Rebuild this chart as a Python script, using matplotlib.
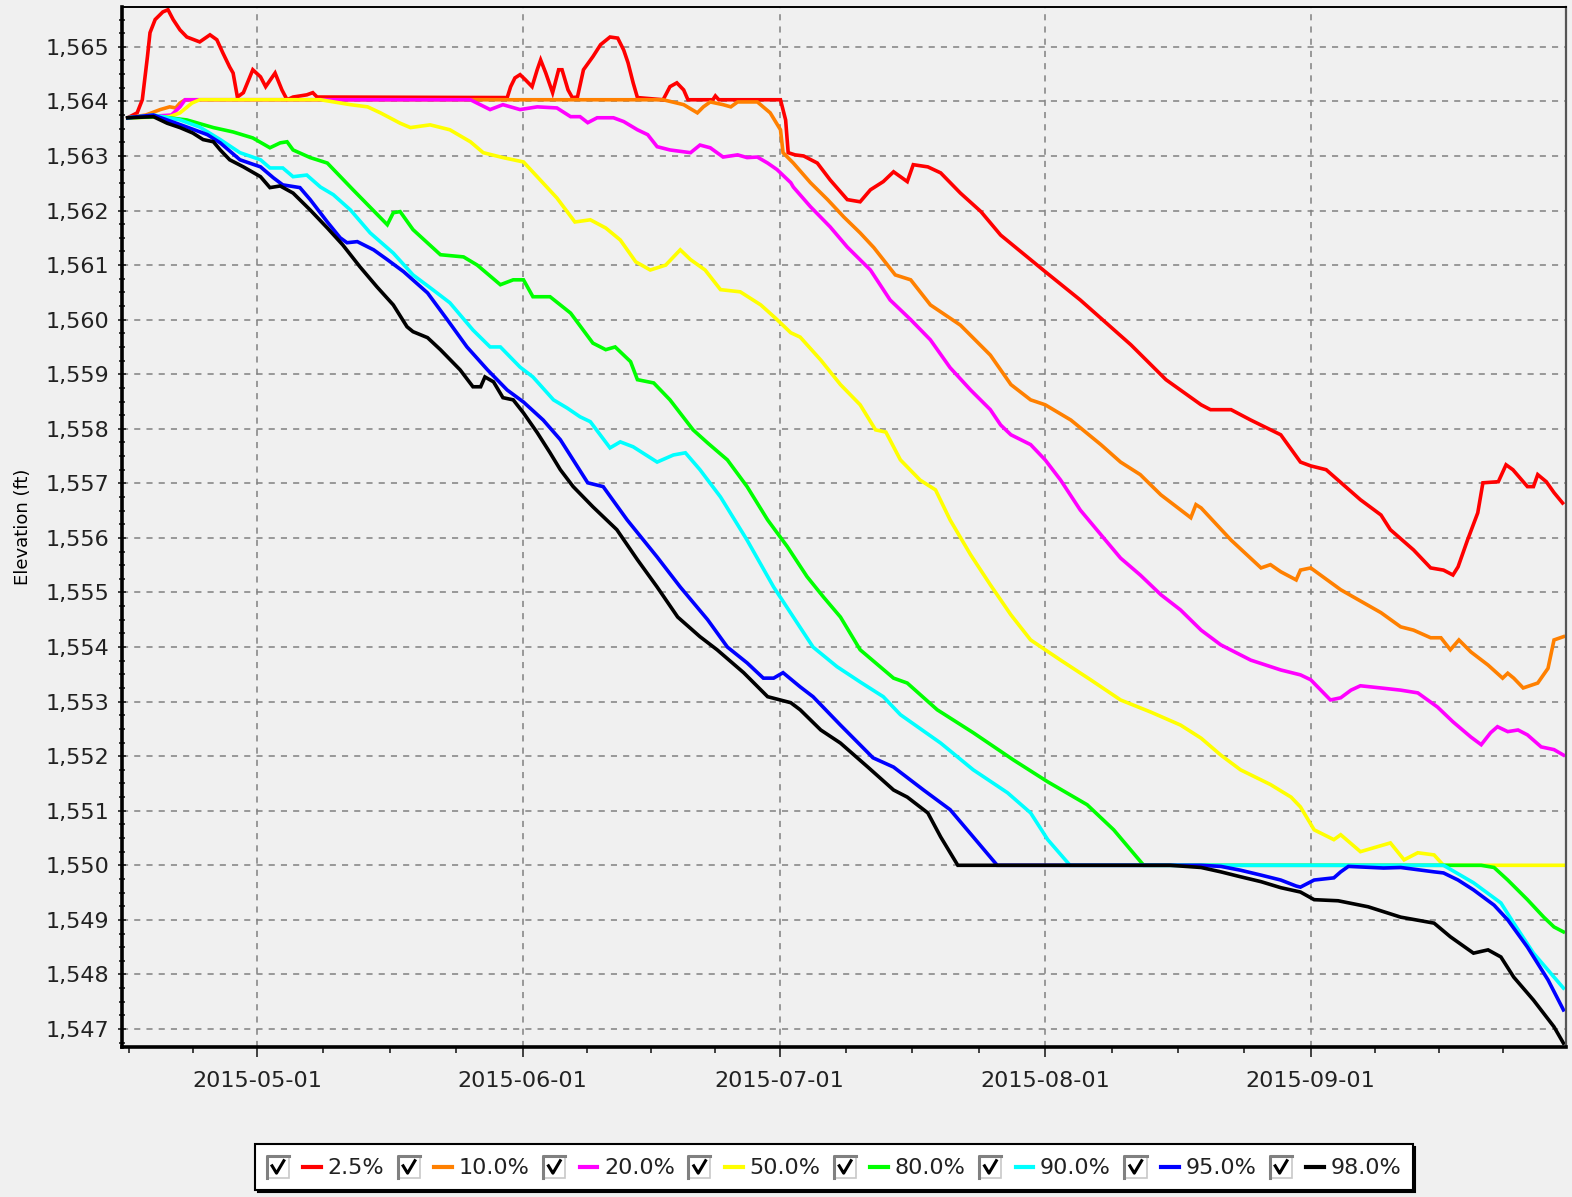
import calendar
from datetime import datetime, timedelta

import matplotlib
matplotlib.use("Agg")
import matplotlib.pyplot as plt
import matplotlib.dates as mdates
from matplotlib.ticker import FuncFormatter, MultipleLocator, FixedLocator
from matplotlib.legend_handler import HandlerBase
from matplotlib.patches import Rectangle
from matplotlib.lines import Line2D

# Reservoir elevation traces, days counted from 2015-04-15
START = datetime(2015, 4, 15)

labels = ["2.5%", "10.0%", "20.0%", "50.0%", "80.0%", "90.0%", "95.0%", "98.0%"]
colors = ["#ff0000", "#ff8000", "#ff00ff", "#ffff00", "#00ff00", "#00ffff", "#0000ff", "#000000"]

days_025 = [0.9, 2.0, 2.6, 3.2, 3.5, 4.1, 5.0, 5.6, 6.2, 7.0, 7.8, 9.3, 10.5, 11.3, 12.0, 12.8,
            13.2, 13.7, 14.4, 15.5, 16.4, 17.0, 18.1, 18.9, 19.5, 20.2, 21.8, 22.5, 23.0, 45.2,
            45.6, 46.1, 46.7, 47.3, 48.1, 48.7, 49.1, 49.7, 50.5, 51.2, 51.6, 52.3, 52.8, 53.4,
            54.1, 55.2, 56.1, 57.2, 58.1, 58.8, 59.3, 59.9, 60.4, 63.4, 64.2, 65.0, 65.8, 66.3,
            69.2, 69.5, 69.9, 77.1, 77.7, 78.0, 78.8, 79.8, 81.4, 82.9, 84.9, 86.4, 87.6, 89.1,
            90.3, 91.9, 92.6, 94.3, 95.8, 98.1, 100.5, 102.8, 108.0, 112.1, 118.0, 122.1, 126.2,
            127.3, 129.7, 132.0, 135.5, 137.8, 139.0, 140.8, 144.8, 147.2, 148.3, 151.0, 153.0,
            154.5, 155.6, 156.2, 157.3, 158.5, 159.1, 160.9, 161.8, 162.6, 164.3, 165.0, 165.5,
            166.5, 167.4, 168.4]
elev_025 = [1563.70, 1563.79, 1564.03, 1564.82, 1565.26, 1565.50, 1565.64, 1565.68, 1565.50,
            1565.31, 1565.18, 1565.09, 1565.22, 1565.13, 1564.89, 1564.63, 1564.52, 1564.08,
            1564.16, 1564.58, 1564.45, 1564.27, 1564.52, 1564.21, 1564.03, 1564.08, 1564.12,
            1564.16, 1564.08, 1564.07, 1564.27, 1564.43, 1564.49, 1564.40, 1564.27, 1564.58,
            1564.76, 1564.52, 1564.16, 1564.58, 1564.58, 1564.21, 1564.07, 1564.08, 1564.58,
            1564.82, 1565.04, 1565.18, 1565.16, 1564.94, 1564.71, 1564.34, 1564.07, 1564.03,
            1564.27, 1564.34, 1564.21, 1564.03, 1564.03, 1564.10, 1564.03, 1564.03, 1563.66,
            1563.06, 1563.02, 1563.00, 1562.87, 1562.56, 1562.20, 1562.16, 1562.38, 1562.53,
            1562.71, 1562.53, 1562.84, 1562.80, 1562.69, 1562.32, 1561.98, 1561.55, 1560.88,
            1560.36, 1559.54, 1558.90, 1558.44, 1558.35, 1558.35, 1558.16, 1557.89, 1557.39,
            1557.32, 1557.25, 1556.70, 1556.42, 1556.15, 1555.78, 1555.45, 1555.41, 1555.32,
            1555.47, 1555.96, 1556.46, 1557.01, 1557.03, 1557.34, 1557.25, 1556.94, 1556.94,
            1557.16, 1557.03, 1556.83, 1556.64]

days_10 = [0.9, 3.0, 4.7, 5.8, 6.5, 7.0, 7.6, 63.4, 65.8, 67.4, 68.1, 68.9, 70.4, 71.3, 72.1,
           74.4, 75.9, 77.1, 77.4, 78.6, 80.6, 82.6, 84.5, 86.4, 88.0, 90.5, 92.3, 94.6, 98.1,
           101.6, 104.0, 106.3, 108.0, 111.0, 114.5, 116.8, 119.1, 121.5, 125.0, 125.6, 126.2,
           129.7, 133.2, 134.3, 135.5, 137.3, 137.8, 139.0, 142.5, 147.2, 149.5, 151.0, 153.0,
           154.2, 155.3, 156.3, 157.7, 159.7, 161.4, 162.0, 162.7, 163.8, 165.5, 166.7, 167.4,
           168.5]
elev_10 = [1563.70, 1563.75, 1563.85, 1563.90, 1563.88, 1563.97, 1564.03, 1564.03, 1563.94,
           1563.79, 1563.90, 1563.99, 1563.94, 1563.90, 1563.99, 1563.99, 1563.79, 1563.48,
           1563.06, 1562.87, 1562.51, 1562.20, 1561.88, 1561.59, 1561.32, 1560.82, 1560.73,
           1560.27, 1559.90, 1559.35, 1558.81, 1558.53, 1558.44, 1558.16, 1557.71, 1557.39,
           1557.16, 1556.79, 1556.37, 1556.61, 1556.55, 1555.96, 1555.45, 1555.51, 1555.38,
           1555.23, 1555.41, 1555.45, 1555.05, 1554.63, 1554.37, 1554.31, 1554.17, 1554.17,
           1553.95, 1554.13, 1553.91, 1553.67, 1553.43, 1553.52, 1553.43, 1553.25, 1553.34,
           1553.61, 1554.13, 1554.19]

days_20 = [0.9, 6.0, 7.0, 7.6, 40.9, 43.2, 44.7, 46.7, 48.7, 51.0, 52.6, 53.7, 54.6, 55.7,
           57.6, 58.8, 60.4, 61.6, 62.7, 64.2, 66.6, 67.7, 68.9, 70.4, 72.1, 73.2, 74.4, 75.6,
           76.7, 78.3, 78.6, 80.6, 82.9, 84.9, 87.6, 89.9, 92.3, 94.6, 96.9, 99.3, 101.6, 102.8,
           104.0, 106.3, 108.0, 109.8, 112.1, 114.5, 116.8, 119.1, 121.5, 123.8, 126.2, 128.5,
           132.0, 135.5, 137.8, 139.0, 141.3, 142.5, 143.7, 144.8, 147.2, 149.5, 151.5, 153.8,
           155.6, 157.7, 158.9, 160.0, 160.8, 162.0, 163.2, 164.3, 165.9, 167.4, 168.5]
elev_20 = [1563.70, 1563.75, 1563.90, 1564.03, 1564.03, 1563.85, 1563.94, 1563.85, 1563.90,
           1563.88, 1563.72, 1563.72, 1563.61, 1563.70, 1563.70, 1563.63, 1563.48, 1563.39,
           1563.17, 1563.11, 1563.06, 1563.20, 1563.15, 1562.98, 1563.02, 1562.97, 1562.98,
           1562.87, 1562.75, 1562.51, 1562.43, 1562.07, 1561.70, 1561.33, 1560.91, 1560.36,
           1560.00, 1559.63, 1559.12, 1558.71, 1558.35, 1558.07, 1557.89, 1557.71, 1557.43,
           1557.06, 1556.51, 1556.06, 1555.63, 1555.32, 1554.96, 1554.68, 1554.31, 1554.04,
           1553.76, 1553.58, 1553.49, 1553.40, 1553.03, 1553.07, 1553.21, 1553.29, 1553.25,
           1553.21, 1553.16, 1552.90, 1552.63, 1552.35, 1552.21, 1552.43, 1552.54, 1552.45,
           1552.48, 1552.39, 1552.17, 1552.12, 1552.02]

days_50 = [0.9, 5.8, 7.0, 8.4, 9.3, 23.4, 26.9, 28.9, 30.4, 32.7, 33.9, 36.2, 38.5, 40.9,
           42.4, 44.7, 47.1, 48.7, 51.0, 53.1, 54.9, 56.7, 58.4, 60.2, 61.9, 63.7, 65.4, 66.6,
           68.3, 70.1, 72.4, 74.8, 76.5, 78.3, 79.4, 81.8, 84.1, 86.4, 88.2, 89.4, 91.1, 93.4,
           95.2, 96.9, 99.3, 101.6, 104.0, 106.3, 108.0, 109.8, 113.3, 116.8, 120.3, 123.8,
           126.2, 128.5, 130.8, 134.3, 136.7, 137.8, 139.4, 141.7, 142.5, 144.8, 148.3, 149.9,
           151.5, 153.4, 154.5, 168.5]
elev_50 = [1563.70, 1563.72, 1563.79, 1563.97, 1564.03, 1564.03, 1563.94, 1563.90, 1563.79,
           1563.60, 1563.52, 1563.57, 1563.48, 1563.26, 1563.06, 1562.97, 1562.89, 1562.62,
           1562.23, 1561.79, 1561.83, 1561.68, 1561.46, 1561.06, 1560.91, 1561.00, 1561.28,
           1561.10, 1560.91, 1560.55, 1560.51, 1560.27, 1560.03, 1559.76, 1559.68, 1559.26,
           1558.81, 1558.44, 1557.98, 1557.94, 1557.43, 1557.06, 1556.88, 1556.33, 1555.69,
           1555.14, 1554.59, 1554.13, 1553.95, 1553.76, 1553.40, 1553.03, 1552.81, 1552.57,
           1552.33, 1552.02, 1551.75, 1551.48, 1551.25, 1551.07, 1550.65, 1550.47, 1550.56,
           1550.25, 1550.41, 1550.10, 1550.23, 1550.19, 1550.00, 1550.00]

days_80 = [0.9, 4.7, 7.8, 10.9, 13.2, 15.5, 17.5, 18.7, 19.5, 20.2, 22.2, 24.2, 27.2, 31.2,
           31.9, 32.7, 34.2, 37.4, 40.1, 41.7, 44.4, 45.9, 47.1, 48.2, 50.2, 52.6, 55.2, 56.7,
           57.8, 59.6, 60.4, 62.3, 64.2, 66.9, 68.6, 70.9, 73.2, 75.6, 77.9, 80.2, 82.1, 84.1,
           86.4, 90.3, 91.9, 95.4, 99.6, 104.3, 108.3, 112.9, 116.0, 119.5, 158.9, 160.4, 162.0,
           164.3, 166.2, 167.4, 168.5]
elev_80 = [1563.70, 1563.72, 1563.66, 1563.52, 1563.44, 1563.33, 1563.15, 1563.24, 1563.26,
           1563.11, 1562.97, 1562.87, 1562.38, 1561.74, 1561.96, 1561.98, 1561.65, 1561.19,
           1561.15, 1561.00, 1560.64, 1560.73, 1560.73, 1560.42, 1560.42, 1560.12, 1559.57,
           1559.45, 1559.50, 1559.23, 1558.90, 1558.84, 1558.53, 1557.98, 1557.74, 1557.43,
           1556.94, 1556.33, 1555.84, 1555.29, 1554.92, 1554.55, 1553.95, 1553.43, 1553.34,
           1552.85, 1552.43, 1551.93, 1551.53, 1551.11, 1550.65, 1550.00, 1550.00, 1549.96,
           1549.73, 1549.37, 1549.05, 1548.87, 1548.78]

days_90 = [0.9, 3.9, 7.0, 9.3, 11.7, 14.0, 16.4, 17.5, 19.0, 20.2, 21.8, 23.4, 24.9, 26.9,
           29.2, 31.9, 34.2, 36.5, 38.5, 41.2, 43.2, 44.4, 46.7, 48.2, 50.6, 52.2, 53.7, 54.9,
           57.2, 58.4, 59.9, 62.7, 64.6, 66.0, 67.7, 70.1, 73.2, 76.3, 78.6, 80.9, 83.7, 86.4,
           89.1, 91.1, 95.8, 99.6, 103.6, 106.3, 108.3, 110.9, 154.5, 158.0, 161.2, 162.7,
           165.0, 168.5]
elev_90 = [1563.70, 1563.75, 1563.66, 1563.53, 1563.30, 1563.06, 1562.93, 1562.78, 1562.78,
           1562.62, 1562.65, 1562.43, 1562.29, 1562.01, 1561.59, 1561.22, 1560.82, 1560.55,
           1560.31, 1559.81, 1559.50, 1559.50, 1559.13, 1558.95, 1558.53, 1558.38, 1558.22,
           1558.13, 1557.65, 1557.76, 1557.67, 1557.39, 1557.52, 1557.56, 1557.25, 1556.75,
           1555.96, 1555.10, 1554.55, 1554.00, 1553.64, 1553.36, 1553.09, 1552.76, 1552.24,
           1551.75, 1551.33, 1550.96, 1550.47, 1550.00, 1550.00, 1549.68, 1549.31, 1548.94,
           1548.39, 1547.75]

days_95 = [0.9, 3.9, 7.8, 10.2, 11.7, 14.0, 16.4, 17.9, 19.0, 21.0, 22.2, 24.2, 25.7, 26.5,
           27.7, 29.6, 31.2, 33.1, 35.9, 38.2, 40.5, 42.9, 45.2, 47.1, 49.4, 51.4, 54.6, 56.4,
           59.2, 62.7, 65.4, 68.6, 70.9, 73.2, 75.1, 76.3, 77.4, 79.4, 80.9, 84.1, 87.9, 90.3,
           93.8, 96.9, 99.6, 102.4, 126.2, 128.5, 130.8, 133.2, 135.5, 137.3, 137.8, 139.4,
           141.7, 142.5, 143.4, 147.5, 149.5, 153.4, 154.5, 156.2, 158.0, 160.4, 162.0, 164.3,
           166.7, 168.5]
elev_95 = [1563.70, 1563.75, 1563.53, 1563.39, 1563.24, 1562.93, 1562.80, 1562.60, 1562.47,
           1562.42, 1562.20, 1561.79, 1561.50, 1561.41, 1561.43, 1561.28, 1561.10, 1560.88,
           1560.49, 1560.00, 1559.50, 1559.08, 1558.71, 1558.49, 1558.16, 1557.80, 1557.01,
           1556.94, 1556.33, 1555.65, 1555.10, 1554.50, 1554.00, 1553.71, 1553.43, 1553.43,
           1553.53, 1553.27, 1553.09, 1552.57, 1551.97, 1551.80, 1551.38, 1551.02, 1550.52,
           1550.00, 1550.00, 1549.98, 1549.91, 1549.82, 1549.73, 1549.62, 1549.60, 1549.73,
           1549.77, 1549.88, 1549.98, 1549.95, 1549.96, 1549.88, 1549.86, 1549.73, 1549.55,
           1549.27, 1549.00, 1548.50, 1547.90, 1547.35]

days_98 = [0.9, 3.9, 5.5, 7.0, 8.5, 9.7, 10.9, 11.7, 12.8, 14.4, 16.4, 17.5, 18.7, 20.2,
           22.2, 24.2, 26.0, 28.0, 30.0, 31.9, 33.5, 34.2, 35.9, 37.4, 39.7, 41.2, 42.1, 42.6,
           43.6, 44.7, 45.9, 47.1, 48.7, 50.2, 51.4, 52.9, 55.2, 58.0, 60.4, 62.7, 65.1, 67.7,
           69.7, 72.8, 75.6, 78.3, 79.4, 81.8, 84.1, 87.3, 90.3, 91.9, 94.3, 95.8, 97.8, 122.6,
           126.2, 128.5, 130.8, 133.2, 135.5, 137.8, 139.4, 142.2, 145.7, 149.5, 153.4, 155.3,
           158.0, 159.7, 161.2, 162.7, 165.0, 167.4, 168.5]
elev_98 = [1563.70, 1563.72, 1563.60, 1563.52, 1563.42, 1563.30, 1563.26, 1563.11, 1562.93,
           1562.80, 1562.62, 1562.42, 1562.45, 1562.32, 1562.01, 1561.68, 1561.37, 1560.97,
           1560.60, 1560.27, 1559.87, 1559.78, 1559.67, 1559.45, 1559.08, 1558.77, 1558.77,
           1558.95, 1558.86, 1558.57, 1558.53, 1558.29, 1557.93, 1557.56, 1557.25, 1556.94,
           1556.57, 1556.15, 1555.60, 1555.10, 1554.55, 1554.19, 1553.95, 1553.53, 1553.09,
           1552.98, 1552.85, 1552.48, 1552.24, 1551.80, 1551.38, 1551.25, 1550.96, 1550.52,
           1550.00, 1550.00, 1549.96, 1549.88, 1549.79, 1549.70, 1549.59, 1549.51, 1549.37,
           1549.35, 1549.24, 1549.05, 1548.94, 1548.69, 1548.39, 1548.45, 1548.32, 1547.95,
           1547.53, 1547.04, 1546.74]

series_days = [days_025, days_10, days_20, days_50, days_80, days_90, days_95, days_98]
series_elev = [elev_025, elev_10, elev_20, elev_50, elev_80, elev_90, elev_95, elev_98]


class CheckBoxHandler(HandlerBase):
    """Legend entry drawn as a ticked checkbox followed by a short coloured line."""

    def create_artists(self, legend, orig_handle, xdescent, ydescent,
                       width, height, fontsize, trans):
        box = fontsize * 1.0
        x0 = -xdescent
        y0 = -ydescent + height / 2 - box / 2
        rect = Rectangle((x0, y0), box, box, facecolor="white",
                         edgecolor="#c8c8c8", lw=1.2, transform=trans)
        bevel = Line2D([x0, x0, x0 + box], [y0, y0 + box, y0 + box],
                       color="#808080", lw=2.2, transform=trans)
        tick = Line2D([x0 + 0.25 * box, x0 + 0.45 * box, x0 + 0.78 * box],
                      [y0 + 0.55 * box, y0 + 0.22 * box, y0 + 0.78 * box],
                      color="black", lw=2.2, transform=trans)
        lx = x0 + box + 0.65 * fontsize
        line = Line2D([lx, lx + 0.8 * fontsize], [y0 + box / 2] * 2,
                      color=orig_handle.get_color(), lw=3, transform=trans)
        return [rect, bevel, tick, line]


fig = plt.figure(figsize=(15.72, 11.97), dpi=100, facecolor="#f0f0f0")
ax = fig.add_axes([122 / 1572, 1 - 1047 / 1197, (1566 - 122) / 1572, (1047 - 7) / 1197])
ax.set_facecolor("#f0f0f0")

handles = []
for d, v, c, lab in zip(series_days, series_elev, colors, labels):
    dates = [START + timedelta(days=x) for x in d]
    h, = ax.plot(dates, v, color=c, lw=2.6, label=lab, solid_joinstyle="miter")
    handles.append(h)

ax.set_xlim(START + timedelta(days=0.23), START + timedelta(days=168.8))
ax.set_ylim(1546.67, 1565.73)

# ticks
ax.xaxis.set_major_locator(mdates.MonthLocator())
ax.xaxis.set_major_formatter(mdates.DateFormatter("%Y-%m-%d"))
minor = []
for m in range(4, 10):
    first = datetime(2015, m, 1)
    ndays = calendar.monthrange(2015, m)[1]
    for k in (1, 2, 3):
        minor.append(mdates.date2num(first + timedelta(days=ndays * k / 4)))
ax.xaxis.set_minor_locator(FixedLocator(minor))
ax.yaxis.set_major_locator(MultipleLocator(1))
ax.yaxis.set_minor_locator(MultipleLocator(0.25))
ax.yaxis.set_major_formatter(FuncFormatter(lambda v, _: f"{v:,.0f}"))

ax.tick_params(axis="x", which="major", direction="out", length=7, width=1.2,
               pad=10, labelsize=16, colors="#222222")
ax.tick_params(axis="x", which="minor", direction="out", length=4, width=1.2, colors="#222222")
ax.tick_params(axis="y", which="major", direction="inout", length=6, width=1.2,
               pad=6, labelsize=16, colors="#222222")
ax.tick_params(axis="y", which="minor", direction="inout", length=4, width=1.2, colors="#222222")

ax.set_ylabel("Elevation (ft)", fontsize=13, labelpad=10)

ax.set_axisbelow(True)
ax.grid(True, which="major", color="#808080", linestyle=(0, (4, 4)), lw=1.1)

for side in ("left", "bottom"):
    ax.spines[side].set_linewidth(2.6)
    ax.spines[side].set_color("black")
ax.spines["top"].set_linewidth(1.4)
ax.spines["top"].set_color("black")
ax.spines["right"].set_linewidth(1.6)
ax.spines["right"].set_color("#555555")

leg = fig.legend(handles, labels, loc="center", bbox_to_anchor=(834 / 1572, 1 - 1167 / 1197),
                 ncol=8, fontsize=16, frameon=True, fancybox=False, edgecolor="black",
                 facecolor="white", framealpha=1, shadow={"color": "black", "alpha": 1},
                 handler_map={Line2D: CheckBoxHandler()}, handlelength=2.5, handleheight=1.2,
                 handletextpad=0.25, columnspacing=0.6, borderpad=0.5)
leg.get_frame().set_linewidth(1.5)
for t in leg.get_texts():
    t.set_color("#222222")

fig.savefig("out.png", dpi=100, facecolor=fig.get_facecolor())
